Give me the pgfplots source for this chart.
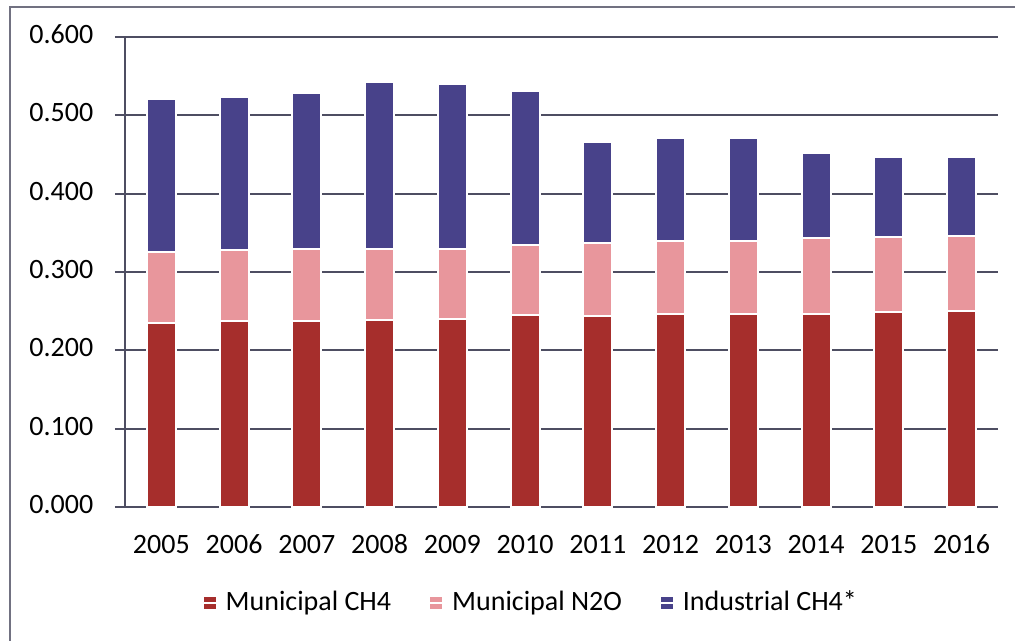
\documentclass[border=0pt]{standalone}
\usepackage{fontspec}
\setmainfont{Carlito}
\usepackage{pgfplots}
\pgfplotsset{compat=1.18}
\definecolor{mred}{RGB}{166,46,44}
\definecolor{mpink}{RGB}{232,150,156}
\definecolor{mblue}{RGB}{72,66,138}
\definecolor{gridcol}{RGB}{78,78,98}
\begin{document}
\fontsize{14bp}{16bp}\selectfont
\begin{tikzpicture}
\path[use as bounding box] (-62.5bp,-67bp) rectangle (445bp,253.5bp);
\draw[gridcol!80,line width=1bp] (-57.5bp,-67bp) -- (-57.5bp,250bp) -- (445bp,250bp);
\begin{axis}[
  at={(0,0)}, anchor=south west,
  scale only axis,
  width=436.5bp, height=235bp,
  ybar stacked,
  bar width=14.5bp,
  xmin=-0.5, xmax=11.5,
  ymin=0, ymax=0.6,
  ytick={0,0.1,...,0.6},
  xtick={0,...,11},
  xticklabels={2005,2006,2007,2008,2009,2010,2011,2012,2013,2014,2015,2016},
  major x tick style={draw=none},
  extra x ticks={-0.5,0.5,...,11.5},
  extra x tick labels={},
  extra x tick style={grid=none, tick style={draw=gridcol,line width=1bp}},
  tick align=outside,
  major tick length=5bp,
  ytick style={draw=gridcol,line width=1bp},
  axis x line*=bottom,
  axis y line*=left,
  axis line style={draw=gridcol,line width=1bp,-},
  ymajorgrids=true,
  grid style={draw=gridcol,line width=1bp},
  yticklabel style={/pgf/number format/.cd,fixed,fixed zerofill,precision=3,/tikz/.cd, xshift=-6bp},
  /pgf/number format/assume math mode=true,
  typeset ticklabels with strut,
  xticklabel style={yshift=-2bp},
  tick label style={font=\fontsize{14bp}{16bp}\selectfont},
  every axis plot/.append style={draw=white,line width=1bp},
  legend style={at={(0.466,-0.204)}, anchor=center, draw=none, fill=none,
    legend columns=3, font=\fontsize{14bp}{16bp}\selectfont,
    /tikz/every even column/.append style={column sep=17bp},
    inner sep=0pt},
  legend image code/.code={\fill[#1,draw=none] (0bp,-3bp) rectangle (6bp,3bp); \path (0bp,0bp) -- (8.5bp,0bp);},
]
\addplot[fill=mred] coordinates {(0,0.235) (1,0.237) (2,0.237) (3,0.239) (4,0.240) (5,0.245) (6,0.244) (7,0.246) (8,0.247) (9,0.247) (10,0.249) (11,0.250)};
\addplot[fill=mpink] coordinates {(0,0.091) (1,0.091) (2,0.093) (3,0.091) (4,0.090) (5,0.090) (6,0.093) (7,0.093) (8,0.093) (9,0.096) (10,0.096) (11,0.096)};
\addplot[fill=mblue] coordinates {(0,0.195) (1,0.196) (2,0.198) (3,0.212) (4,0.210) (5,0.196) (6,0.129) (7,0.132) (8,0.131) (9,0.109) (10,0.102) (11,0.101)};
\legend{Municipal CH4,Municipal N2O,Industrial CH4*}
\end{axis}
\end{tikzpicture}
\end{document}
